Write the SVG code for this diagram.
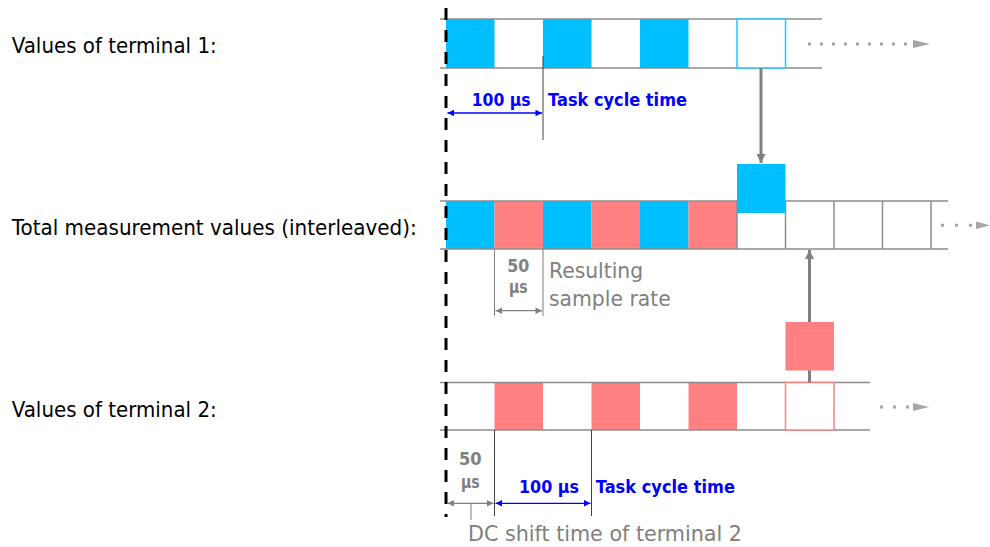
<svg xmlns="http://www.w3.org/2000/svg" width="990" height="547" viewBox="0 0 990 547">
<style>
.lbl{font-family:"DejaVu Sans","Liberation Sans",sans-serif;font-size:21.5px;fill:#000}
.gt{font-family:"DejaVu Sans","Liberation Sans",sans-serif;font-size:20.5px;fill:#808080}
.bb{font-family:"DejaVu Sans","Liberation Sans",sans-serif;font-size:17.5px;font-weight:bold;fill:#0000FF}
.gb{font-family:"DejaVu Sans","Liberation Sans",sans-serif;font-size:17.5px;font-weight:bold;fill:#808080}
.rl{stroke:#8C8C8C;stroke-width:1.5;fill:none}
.blue{fill:#00BFFF}
.red{fill:#FF8080}
.div{stroke:#8C8C8C;stroke-width:1.5}
.thin{stroke:#404040;stroke-width:1}
.thing{stroke:#808080;stroke-width:1}
.dot{stroke:#A6A6A6;stroke-width:3;stroke-dasharray:3 9;fill:none}
.dh{fill:#A6A6A6}
.conn{stroke:#808080;stroke-width:3;fill:none}
.dimb{stroke:#0000FF;stroke-width:1.3;fill:none}
.dimg{stroke:#808080;stroke-width:1.3;fill:none}
</style>
<defs>
<marker id="ah" viewBox="0 0 10 10" refX="10" refY="5" markerWidth="3.2" markerHeight="3" orient="auto" markerUnits="strokeWidth">
<path d="M0,0 L10,5 L0,10 z" fill="#808080"/>
</marker>
<marker id="mb" viewBox="0 0 10 10" refX="10" refY="5" markerWidth="6" markerHeight="5" orient="auto-start-reverse" markerUnits="strokeWidth">
<path d="M0,0 L10,5 L0,10 z" fill="#0000FF"/>
</marker>
<marker id="mg" viewBox="0 0 10 10" refX="10" refY="5" markerWidth="6" markerHeight="5" orient="auto-start-reverse" markerUnits="strokeWidth">
<path d="M0,0 L10,5 L0,10 z" fill="#808080"/>
</marker>
</defs>
<rect width="990" height="547" fill="#fff"/>

<g id="labels">
<text class="lbl" x="11.7" y="53.3" textLength="205" lengthAdjust="spacingAndGlyphs">Values of terminal 1:</text>
<text class="lbl" x="11.7" y="235" textLength="405" lengthAdjust="spacingAndGlyphs">Total measurement values (interleaved):</text>
<text class="lbl" x="11.7" y="416.7" textLength="205" lengthAdjust="spacingAndGlyphs">Values of terminal 2:</text>
</g>

<g id="row1">
<rect class="blue" x="446" y="19" width="48.5" height="49"/>
<rect class="blue" x="543" y="19" width="48.5" height="49"/>
<rect class="blue" x="640" y="19" width="48.5" height="49"/>
<line class="rl" x1="440" y1="19" x2="822" y2="19"/>
<line class="rl" x1="440" y1="68" x2="822" y2="68"/>
<rect x="737" y="19" width="48.5" height="49" fill="#fff" stroke="#1EC8FF" stroke-width="1.5"/>
<line class="dot" x1="808" y1="44" x2="914" y2="44"/>
<polygon class="dh" points="913,40 930,44 913,48"/>
</g>

<g id="row2">
<rect class="blue" x="446" y="201" width="48.5" height="48"/>
<rect class="red" x="494.5" y="201" width="48.5" height="48"/>
<rect class="blue" x="543" y="201" width="48.5" height="48"/>
<rect class="red" x="591.5" y="201" width="48.5" height="48"/>
<rect class="blue" x="640" y="201" width="48.5" height="48"/>
<rect class="red" x="688.5" y="201" width="48.5" height="48"/>
<line class="rl" x1="440" y1="201" x2="948" y2="201"/>
<line class="rl" x1="440" y1="249" x2="948" y2="249"/>
<line class="div" x1="737" y1="201" x2="737" y2="249"/>
<line class="div" x1="785.5" y1="201" x2="785.5" y2="249"/>
<line class="div" x1="834" y1="201" x2="834" y2="249"/>
<line class="div" x1="882.5" y1="201" x2="882.5" y2="249"/>
<line class="div" x1="931" y1="201" x2="931" y2="249"/>
<line class="dot" x1="941" y1="225.3" x2="977" y2="225.3" style="stroke-dasharray:3 11"/>
<polygon class="dh" points="976,221.5 990,225.3 976,229"/>
</g>

<g id="row3">
<rect class="red" x="494.5" y="382.5" width="48.5" height="47.5"/>
<rect class="red" x="591.5" y="382.5" width="48.5" height="47.5"/>
<rect class="red" x="688.5" y="382.5" width="48.5" height="47.5"/>
<line class="rl" x1="440" y1="382.5" x2="870" y2="382.5"/>
<line class="rl" x1="440" y1="430" x2="870" y2="430"/>
<rect x="785.5" y="382.5" width="48.5" height="47.5" fill="#fff" stroke="#FF8080" stroke-width="1.5"/>
<line class="dot" x1="880" y1="407" x2="914" y2="407" style="stroke-dasharray:3 10"/>
<polygon class="dh" points="913,403 929,407 913,411"/>
</g>

<g id="connectors">
<line class="conn" x1="761" y1="68" x2="761" y2="163" marker-end="url(#ah)"/>
<line class="conn" x1="809.5" y1="382.5" x2="809.5" y2="250" marker-end="url(#ah)"/>
</g>

<g id="moved-blue">
<rect class="blue" x="737" y="164" width="48.5" height="49"/>
</g>
<g id="moved-red">
<rect class="red" x="785.5" y="322" width="48.5" height="48.5"/>
</g>

<g id="dimensions">
<line class="thin" x1="543" y1="56" x2="543" y2="140"/>
<line class="dimb" x1="447.5" y1="113" x2="542" y2="113" marker-start="url(#mb)" marker-end="url(#mb)"/>
<text class="bb" x="471.7" y="106" textLength="59" lengthAdjust="spacingAndGlyphs">100 µs</text>
<text class="bb" x="548" y="106" textLength="139" lengthAdjust="spacingAndGlyphs">Task cycle time</text>

<line class="thing" x1="494.5" y1="249" x2="494.5" y2="316"/>
<line class="thing" x1="543" y1="249" x2="543" y2="316"/>
<line class="dimg" x1="495.5" y1="310.7" x2="542" y2="310.7" marker-start="url(#mg)" marker-end="url(#mg)"/>
<text class="gb" x="507.3" y="271.7" textLength="22" lengthAdjust="spacingAndGlyphs">50</text>
<text class="gb" x="509" y="292.7" textLength="18.7" lengthAdjust="spacingAndGlyphs">µs</text>
<text class="gt" x="549" y="278.3" textLength="94" lengthAdjust="spacingAndGlyphs">Resulting</text>
<text class="gt" x="549" y="306" textLength="121.7" lengthAdjust="spacingAndGlyphs">sample rate</text>

<line class="thin" x1="494.5" y1="430" x2="494.5" y2="516"/>
<line class="thin" x1="591.5" y1="430" x2="591.5" y2="516"/>
<line class="dimg" x1="447.5" y1="503.3" x2="493.5" y2="503.3" marker-start="url(#mg)" marker-end="url(#mg)"/>
<line class="dimb" x1="495.5" y1="503.3" x2="590.5" y2="503.3" marker-start="url(#mb)" marker-end="url(#mb)"/>
<line class="thing" x1="471" y1="503.3" x2="471" y2="520"/>
<text class="gb" x="459" y="465" textLength="22.7" lengthAdjust="spacingAndGlyphs">50</text>
<text class="gb" x="461" y="488" textLength="18.7" lengthAdjust="spacingAndGlyphs">µs</text>
<text class="bb" x="519" y="492.7" textLength="60" lengthAdjust="spacingAndGlyphs">100 µs</text>
<text class="bb" x="595.7" y="492.7" textLength="139.3" lengthAdjust="spacingAndGlyphs">Task cycle time</text>
<text class="gt" x="468" y="541" textLength="274" lengthAdjust="spacingAndGlyphs">DC shift time of terminal 2</text>
</g>

<g id="time-zero">
<line x1="446" y1="8" x2="446" y2="517" stroke="#000" stroke-width="3" stroke-dasharray="12 10"/>
</g>
</svg>
